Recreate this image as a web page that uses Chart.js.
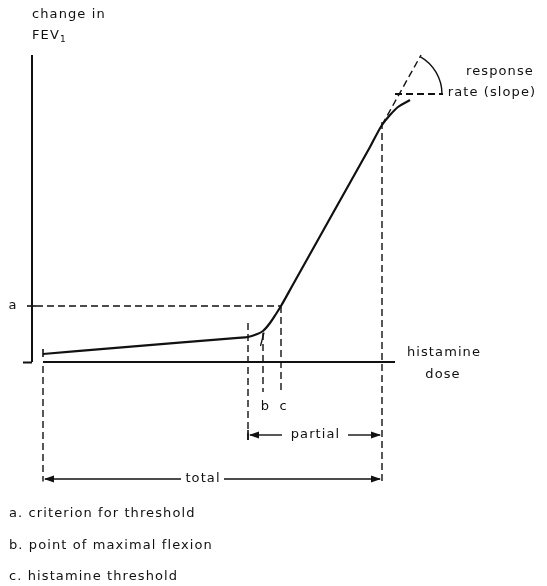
<!DOCTYPE html>
<html>
<head>
<meta charset="utf-8">
<script src="https://cdn.jsdelivr.net/npm/chart.js@4/dist/chart.umd.min.js"></script>
<style>
  html, body { margin: 0; padding: 0; background: #fff; }
  canvas { display: block; }
</style>
</head>
<body>
<canvas id="c" width="547" height="586"></canvas>
<script>
// Dose–response curve to inhaled histamine (schematic units)
const curveDose = [1.0, 11.0, 20.5, 21.5, 22.3, 23.0, 23.7, 24.3, 24.8, 26.0, 30.0, 33.7, 34.9, 35.7, 36.5, 37.7];
const curveFev  = [0.8, 1.63, 2.42, 2.5, 2.75, 3.1, 3.9, 4.8, 5.6, 7.75, 14.9, 21.5, 23.7, 24.7, 25.5, 26.2];

// Marked points on the curve
const criterionFev   = 5.6;   // a. criterion for threshold
const flexionDose    = 23.0;  // b. point of maximal flexion
const flexionFev     = 3.1;
const thresholdDose  = 24.8;  // c. histamine threshold
const riseStartDose  = 21.5;  // start of the partial dose range
const riseStartFev   = 2.5;
const plateauDose    = 34.9;  // end of the partial / total dose range
const plateauFev     = 23.7;
const startDose      = 1.0;   // first dose given
const startFev       = 0.8;

// Axis extents
const axisEndDose = 36.2;
const axisTopFev  = 30.7;

// Slope construction (tangent extended and a horizontal reference)
const tangentEnd   = { x: 38.8, y: 30.7 };
const slopeVertex  = { x: 36.6, y: 26.8 };
const slopeRefEnd  = 41.0;
const slopeRefStart = 36.2;
const slopeArcRadius = 4.3;

// Text labels
const legendLines = ['a. criterion for threshold', 'b. point of maximal flexion', 'c. histamine threshold'];

// Layout levels below the dose axis (same units as the FEV axis)
const guideShort = -3.0, partialLevel = -7.3, totalLevel = -11.7, guideLong = -11.95, labelLevel = -4.5;

const INK = '#111';
const seg = (x1, y1, x2, y2) => [{ x: x1, y: y1 }, { x: x2, y: y2 }];
const dashed = (data, extra) => Object.assign({
  data, borderColor: INK, borderWidth: 1.4, borderDash: [7, 4], pointRadius: 0, fill: false, tension: 0
}, extra || {});
const solid = (data, w) => ({ data, borderColor: INK, borderWidth: w || 2, pointRadius: 0, fill: false, tension: 0 });

const datasets = [
  // response curve
  {
    data: curveDose.map((d, i) => ({ x: d, y: curveFev[i] })),
    borderColor: INK, borderWidth: 2.2, pointRadius: 0, fill: false,
    cubicInterpolationMode: 'monotone'
  },
  // axes
  solid(seg(-0.1, 0, -0.1, axisTopFev), 2),
  solid(seg(-1.0, -0.05, -0.1, -0.05), 2),
  solid(seg(startDose, 0, axisEndDose, 0), 2),
  // first-dose tick
  solid(seg(startDose, startFev + 0.5, startDose, startFev - 0.3), 1.6),
  // criterion a
  solid(seg(-0.6, criterionFev, 0.3, criterionFev), 1.6),
  dashed(seg(0.3, criterionFev, thresholdDose, criterionFev)),
  // verticals
  dashed(seg(riseStartDose, riseStartFev + 1.4, riseStartDose, partialLevel - 0.6)),
  dashed(seg(flexionDose, flexionFev - 0.2, flexionDose, guideShort)),
  dashed(seg(thresholdDose, criterionFev, thresholdDose, guideShort)),
  dashed(seg(plateauDose, plateauFev + 0.3, plateauDose, guideLong)),
  dashed(seg(startDose, -0.4, startDose, guideLong)),
  // flexion mark
  solid(seg(flexionDose + 0.1, flexionFev - 0.15, flexionDose - 0.25, flexionFev - 1.5), 1.3),
  // slope construction
  dashed(seg(plateauDose, plateauFev, tangentEnd.x, tangentEnd.y)),
  dashed(seg(slopeRefStart, slopeVertex.y, slopeRefEnd, slopeVertex.y), { borderWidth: 2 }),
  // dose ranges
  solid(seg(riseStartDose + 0.2, partialLevel, 24.9, partialLevel), 1.4),
  solid(seg(31.5, partialLevel, plateauDose - 0.2, partialLevel), 1.4),
  solid(seg(startDose + 0.2, totalLevel, 14.8, totalLevel), 1.4),
  solid(seg(19.1, totalLevel, plateauDose - 0.2, totalLevel), 1.4)
];

const annotate = {
  id: 'annotate',
  afterDatasetsDraw(chart) {
    const { ctx, scales: { x, y } } = chart;
    const px = v => x.getPixelForValue(v), py = v => y.getPixelForValue(v);
    ctx.save();
    ctx.fillStyle = INK; ctx.strokeStyle = INK;

    // slope arc
    const cx = px(slopeVertex.x), cy = py(slopeVertex.y);
    const r = px(slopeVertex.x + slopeArcRadius) - cx;
    const ang = Math.atan2(py(tangentEnd.y) - cy, px(tangentEnd.x) - cx);
    ctx.lineWidth = 1.4;
    ctx.beginPath(); ctx.arc(cx, cy, r, ang, 0); ctx.stroke();

    // arrowheads
    const head = (tipX, yy, dir) => {
      ctx.beginPath();
      ctx.moveTo(tipX, yy);
      ctx.lineTo(tipX - dir * 10, yy - 3.5);
      ctx.lineTo(tipX - dir * 10, yy + 3.5);
      ctx.closePath(); ctx.fill();
    };
    head(px(riseStartDose) + 1, py(partialLevel), -1);
    head(px(plateauDose) - 1, py(partialLevel), 1);
    head(px(startDose) + 1, py(totalLevel), -1);
    head(px(plateauDose) - 1, py(totalLevel), 1);
    ctx.lineWidth = 1.6;
    ctx.beginPath();
    ctx.moveTo(px(riseStartDose), py(partialLevel) - 5);
    ctx.lineTo(px(riseStartDose), py(partialLevel) + 5);
    ctx.stroke();

    // texts
    ctx.textBaseline = 'middle';
    ctx.letterSpacing = '1.1px';
    const font = s => `${s}px "DejaVu Sans", sans-serif`;
    const txt = (t, xx, yy, align, size) => {
      ctx.font = font(size || 13); ctx.textAlign = align || 'left'; ctx.fillText(t, xx, yy);
    };
    txt('change in', px(-0.1), 15);
    txt('FEV', px(-0.1), 36);
    ctx.font = font(13);
    const w = ctx.measureText('FEV').width;
    txt('1', px(-0.1) + w, 40, 'left', 9);
    txt('response', 500, 72, 'center');
    txt('rate (slope)', 492, 93, 'center');
    txt('a', px(-2.0), py(criterionFev), 'center');
    txt('histamine', 444, 353, 'center');
    txt('dose', 443, 375, 'center');
    txt('b', px(flexionDose + 0.25), py(labelLevel), 'center', 13);
    txt('c', px(thresholdDose + 0.25), py(labelLevel), 'center', 13);
    txt('partial', px(28.25), py(partialLevel), 'center');
    txt('total', px(17.0), py(totalLevel), 'center');
    legendLines.forEach((t, i) => txt(t, 9, 514 + i * 31.5));
    ctx.restore();
  }
};

new Chart(document.getElementById('c'), {
  type: 'line',
  data: { datasets },
  options: {
    responsive: false,
    animation: false,
    layout: { padding: 0 },
    scales: {
      x: { type: 'linear', min: -3.3, max: 51.4, display: false },
      y: { type: 'linear', min: -22.4, max: 36.2, display: false }
    },
    plugins: { legend: { display: false }, tooltip: { enabled: false } }
  },
  plugins: [annotate]
});
</script>
</body>
</html>
